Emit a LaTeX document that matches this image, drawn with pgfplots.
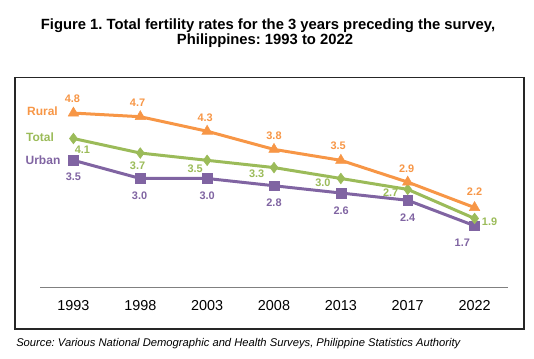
\documentclass[border=0pt]{standalone}
\usepackage{pgfplots}
\usepackage{pgfplotstable}
\pgfplotsset{compat=1.18}
\usepackage{fontspec}
\setmainfont{Liberation Sans}
\frenchspacing
\definecolor{rural}{HTML}{F79646}
\definecolor{total}{HTML}{9BBB59}
\definecolor{urban}{HTML}{8064A2}
\definecolor{axgray}{HTML}{808080}

\pgfplotstableread{
x y lab dx dy
0 4.8 4.8 -1 14
1 4.7 4.7 -2.7 13.7
2 4.3 4.3 -2 13.4
3 3.8 3.8 0 13.3
4 3.5 3.5 -2.7 14.3
5 2.9 2.9 -1 13.3
6 2.2 2.2 0 16.3
}\rural
\pgfplotstableread{
x y lab dx dy
0 4.1 4.1 9 -11.2
1 3.7 3.7 -2.7 -12.7
2 3.5 3.5 -12 -8.4
3 3.3 3.3 -17.3 -6.2
4 3.0 3.0 -18 -4.3
5 2.7 2.7 -17 -3.3
6 1.9 1.9 15 -3
}\total
\pgfplotstableread{
x y lab dx dy
0 3.5 3.5 0 -16.4
1 3.0 3.0 -0.7 -17.2
2 3.0 3.0 0 -17.2
3 2.8 2.8 0 -16.7
4 2.6 2.6 0.3 -17.4
5 2.4 2.4 0 -17.1
6 1.7 1.7 -12.3 -16.7
}\urban

\pgfplotsset{
  lab/.style={
    nodes near coords,
    point meta=explicit symbolic,
    visualization depends on={\thisrow{dx} \as \ldx},
    visualization depends on={\thisrow{dy} \as \ldy},
    every node near coord/.append style={anchor=center, inner sep=0pt,
      xshift={\ldx*0.75pt}, yshift={\ldy*0.75pt},
      font=\bfseries\fontsize{8.2}{9}\selectfont, text=#1},
  }
}

\begin{document}
\begin{tikzpicture}
\begin{scope}[x=0.75pt,y=-0.75pt]
\useasboundingbox (0,0) rectangle (534,359);
\node[anchor=base, font=\bfseries\fontsize{11.1}{13}\selectfont] at (268,29.3)
  {Figure 1. Total fertility rates for the 3 years preceding the survey,};
\node[anchor=base, font=\bfseries\fontsize{11.1}{13}\selectfont] at (265,44.3)
  {Philippines: 1993 to 2022};
\draw[line width=1.4pt, black!85] (15,77.5) rectangle (524,329);
\node[font=\bfseries\fontsize{9}{10}\selectfont, text=rural] at (42.5,111) {Rural};
\node[font=\bfseries\fontsize{9}{10}\selectfont, text=total] at (40,137.5) {Total};
\node[font=\bfseries\fontsize{9}{10}\selectfont, text=urban] at (43,160) {Urban};
\node[anchor=base west, inner sep=0pt, font=\itshape\fontsize{8.4}{9}\selectfont] at (16,346.7)
  {Source: Various National Demographic and Health Surveys, Philippine Statistics Authority};
\end{scope}
\begin{axis}[
  at={(30pt,-215.625pt)}, anchor=south west,
  scale only axis, width=351pt, height=149.9pt,
  xmin=-0.5, xmax=6.5, ymin=0, ymax=5.5,
  axis x line=bottom, axis y line=none,
  x axis line style={-, draw=axgray, line width=0.75pt},
  xtick={0,...,6},
  xticklabels={1993,1998,2003,2008,2013,2017,2022},
  major tick length=0pt,
  xticklabel style={anchor=center, yshift=-13.6pt, font=\fontsize{10.8}{12}\selectfont},
  clip=false,
]
\addplot[urban, line width=2.25pt, mark=square*, mark size=3.7pt,
  mark options={solid, line width=0.4pt}, lab=urban]
  table[x=x, y=y, meta=lab] {\urban};
\addplot[total, line width=2.25pt, mark=diamond*, mark size=4pt,
  mark options={solid, line width=0.4pt}, lab=total]
  table[x=x, y=y, meta=lab] {\total};
\addplot[rural, line width=2.25pt, mark=triangle*, mark size=4.5pt,
  mark options={solid, line width=0.4pt}, lab=rural]
  table[x=x, y=y, meta=lab] {\rural};
\end{axis}
\end{tikzpicture}
\end{document}
